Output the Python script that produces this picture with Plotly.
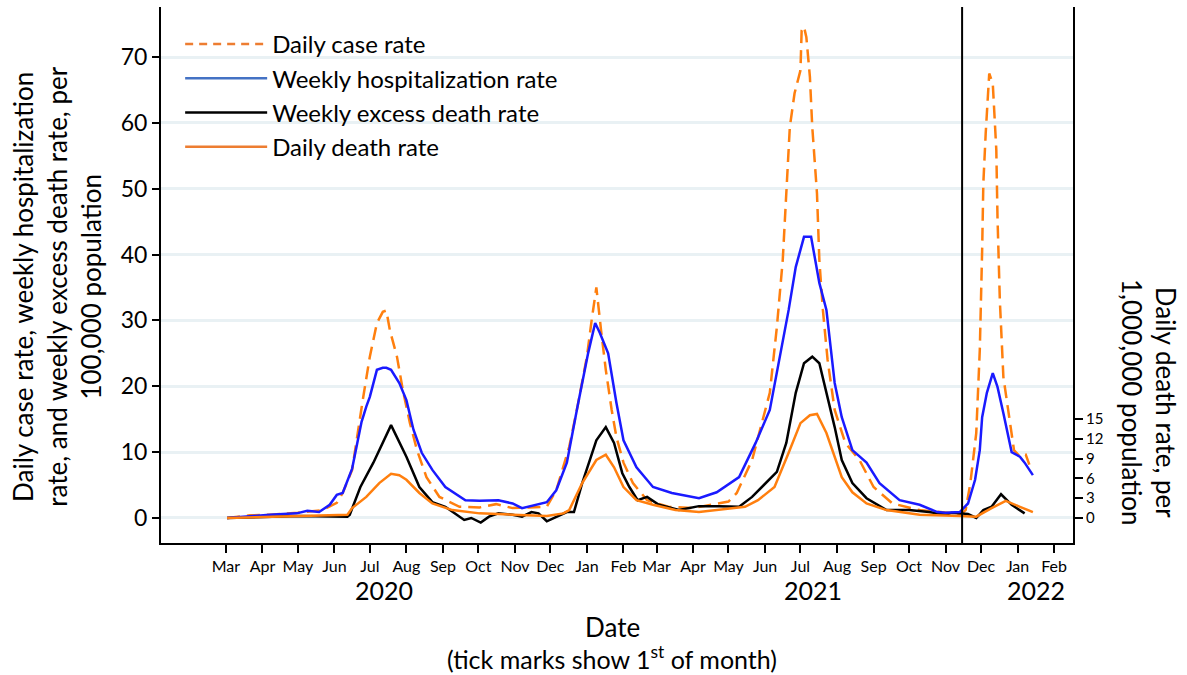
import plotly.graph_objects as go

FONT = "Lato"

# daily case rate per 100,000
case_dates = ['2020-03-02', '2020-03-21', '2020-04-07', '2020-05-01', '2020-05-22', '2020-06-03',
              '2020-06-08', '2020-06-16', '2020-06-25', '2020-07-01', '2020-07-07', '2020-07-12',
              '2020-07-15', '2020-07-18', '2020-07-24', '2020-07-29', '2020-08-04', '2020-08-10',
              '2020-08-18', '2020-08-29', '2020-09-15', '2020-10-02', '2020-10-16', '2020-10-30',
              '2020-11-13', '2020-11-28', '2020-12-06', '2020-12-17', '2020-12-24', '2021-01-01',
              '2021-01-05', '2021-01-09', '2021-01-13', '2021-01-17', '2021-01-22', '2021-01-26',
              '2021-02-01', '2021-02-09', '2021-02-21', '2021-03-11', '2021-04-01', '2021-04-21',
              '2021-05-01', '2021-05-08', '2021-05-21', '2021-06-05', '2021-06-11', '2021-06-16',
              '2021-06-19', '2021-06-22', '2021-06-26', '2021-07-01', '2021-07-02', '2021-07-04',
              '2021-07-06', '2021-07-09', '2021-07-11', '2021-07-15', '2021-07-17', '2021-07-20',
              '2021-07-24', '2021-07-30', '2021-08-08', '2021-08-20', '2021-09-01', '2021-09-17',
              '2021-10-10', '2021-10-31', '2021-11-14', '2021-11-18', '2021-11-22', '2021-11-27',
              '2021-11-30', '2021-12-02', '2021-12-03', '2021-12-05', '2021-12-08', '2021-12-11',
              '2021-12-14', '2021-12-15', '2021-12-17', '2021-12-20', '2021-12-25', '2021-12-29',
              '2022-01-03', '2022-01-08', '2022-01-11']
case_rate = [0, 0.4, 0.5, 0.8, 1.2, 2.3,
             3.8, 7.3, 17.9, 24.5, 29.6, 31.3,
             31.5, 28.5, 24.5, 19.4, 14.4, 10.3,
             6.2, 3.2, 1.7, 1.6, 2.1, 1.5,
             1.6, 1.7, 4.2, 10.8, 16.9, 24.5,
             30, 35, 28.5, 22.5, 16.4, 12.3,
             8.4, 5.3, 2.7, 1.7, 1.5, 2.2,
             2.5, 3.8, 8.8, 19, 29, 39.2,
             49.3, 59.4, 64.5, 68, 74, 74.6,
             73, 67, 59.4, 49.3, 39.2, 31.6,
             24, 16.4, 11.4, 8.8, 4.7, 2.2,
             1.2, 0.8, 0.6, 1.2, 5.3, 12.9,
             25.5, 40.7, 50.8, 58.4, 67.5, 66,
             55.9, 45.7, 33, 21.4, 15.3, 10.3,
             9.3, 9.6, 8.1]

# weekly hospitalization rate per 100,000
hosp_dates = ['2020-03-02', '2020-04-07', '2020-04-30', '2020-05-09', '2020-05-19', '2020-05-28',
              '2020-06-03', '2020-06-08', '2020-06-16', '2020-06-24', '2020-06-28', '2020-07-01',
              '2020-07-07', '2020-07-12', '2020-07-15', '2020-07-19', '2020-07-26', '2020-08-01',
              '2020-08-07', '2020-08-14', '2020-08-23', '2020-09-03', '2020-09-20', '2020-10-02',
              '2020-10-18', '2020-10-30', '2020-11-07', '2020-11-28', '2020-12-06', '2020-12-15',
              '2020-12-24', '2021-01-02', '2021-01-08', '2021-01-12', '2021-01-19', '2021-01-26',
              '2021-02-01', '2021-02-12', '2021-02-26', '2021-03-14', '2021-04-06', '2021-04-21',
              '2021-05-10', '2021-05-24', '2021-06-05', '2021-06-13', '2021-06-21', '2021-06-27',
              '2021-07-04', '2021-07-10', '2021-07-17', '2021-07-23', '2021-07-30', '2021-08-05',
              '2021-08-14', '2021-08-26', '2021-09-06', '2021-09-23', '2021-10-10', '2021-10-25',
              '2021-11-01', '2021-11-13', '2021-11-20', '2021-11-26', '2021-11-30', '2021-12-02',
              '2021-12-06', '2021-12-11', '2021-12-15', '2021-12-20', '2021-12-27', '2022-01-03',
              '2022-01-07', '2022-01-14']
hosp_rate = [0, 0.5, 0.7, 1.1, 0.9, 2.0,
             3.5, 3.8, 7.5, 14.6, 16.9, 18.4,
             22.5, 22.8, 22.8, 22.5, 20.5, 17.9,
             13.4, 9.9, 7.3, 4.7, 2.7, 2.6,
             2.7, 2.2, 1.5, 2.4, 4.2, 8.4,
             16.9, 25, 29.6, 28.1, 25, 17.5,
             11.8, 7.7, 4.7, 3.8, 3.0, 3.9,
             6.2, 11.4, 16.4, 24, 31.6, 38.1,
             42.7, 42.7, 35.7, 31.6, 20.5, 15.3,
             10.3, 8.4, 5.3, 2.7, 2.0, 0.9,
             0.8, 0.9, 2.2, 5.8, 10.3, 15.3,
             19, 22.0, 19.9, 15.9, 10, 9.3,
             8.4, 6.5]

# weekly excess death rate per 100,000
excess_dates = ['2020-03-02', '2020-05-02', '2020-06-12', '2020-06-14', '2020-06-23', '2020-07-04',
                '2020-07-19', '2020-08-01', '2020-08-12', '2020-08-23', '2020-09-03', '2020-09-19',
                '2020-09-25', '2020-10-03', '2020-10-10', '2020-10-18', '2020-10-30', '2020-11-07',
                '2020-11-15', '2020-11-21', '2020-11-28', '2020-12-06', '2020-12-15', '2020-12-21',
                '2020-12-28', '2021-01-09', '2021-01-17', '2021-01-24', '2021-01-31', '2021-02-06',
                '2021-02-13', '2021-02-21', '2021-03-03', '2021-03-20', '2021-04-06', '2021-04-23',
                '2021-05-10', '2021-05-21', '2021-06-02', '2021-06-11', '2021-06-19', '2021-06-27',
                '2021-07-04', '2021-07-11', '2021-07-17', '2021-07-23', '2021-07-30', '2021-08-05',
                '2021-08-14', '2021-08-26', '2021-09-12', '2021-10-01', '2021-10-18', '2021-11-01',
                '2021-11-06', '2021-11-20', '2021-11-27', '2021-12-03', '2021-12-10', '2021-12-18',
                '2021-12-27', '2022-01-07']
excess_rate = [0, 0.3, 0.2, 0.5, 4.7, 8.4,
               14.1, 9.3, 4.7, 2.4, 1.7, -0.3,
               0, -0.7, 0.2, 0.7, 0.5, 0.2,
               0.9, 0.7, -0.5, 0.2, 0.9, 0.9,
               5.3, 11.8, 13.8, 11.4, 6.8, 4.7,
               2.7, 3.2, 2.0, 1.2, 1.8, 1.8,
               1.7, 3.2, 5.3, 7.0, 11.4, 19,
               23.5, 24.5, 23.5, 19, 13.8, 8.8,
               5.3, 3.0, 1.2, 1.2, 0.9, 0.5,
               0.8, 0.6, 0, 1.2, 1.7, 3.6,
               2.0, 0.7]

# daily death rate per 1,000,000
death_dates = ['2020-03-02', '2020-05-02', '2020-06-12', '2020-06-16', '2020-06-28', '2020-07-09',
               '2020-07-19', '2020-07-26', '2020-08-01', '2020-08-12', '2020-08-23', '2020-09-09',
               '2020-10-02', '2020-10-30', '2020-11-28', '2020-12-12', '2020-12-17', '2020-12-28',
               '2021-01-09', '2021-01-17', '2021-01-24', '2021-02-01', '2021-02-12', '2021-02-26',
               '2021-03-17', '2021-04-06', '2021-04-23', '2021-05-15', '2021-05-26', '2021-06-09',
               '2021-06-21', '2021-07-01', '2021-07-09', '2021-07-15', '2021-07-23', '2021-07-30',
               '2021-08-05', '2021-08-14', '2021-08-26', '2021-09-12', '2021-10-10', '2021-11-13',
               '2021-11-27', '2021-12-10', '2021-12-22', '2022-01-03', '2022-01-14']
death_rate = [0, 0.3, 0.5, 1.5, 3.2, 5.3,
              6.7, 6.5, 5.8, 3.8, 2.2, 1.2,
              0.7, 0.5, 0.3, 0.7, 1.2, 5.3,
              8.8, 9.6, 7.7, 4.7, 2.7, 2.0,
              1.2, 0.9, 1.2, 1.7, 2.7, 4.7,
              9.9, 14.4, 15.6, 15.8, 12.9, 9.3,
              6.2, 3.9, 2.2, 1.2, 0.5, 0.3,
              0.2, 1.5, 2.6, 1.7, 0.9]

month_ticks = ['2020-03-01', '2020-04-01', '2020-05-01', '2020-06-01', '2020-07-01', '2020-08-01',
               '2020-09-01', '2020-10-01', '2020-11-01', '2020-12-01', '2021-01-01', '2021-02-01',
               '2021-03-01', '2021-04-01', '2021-05-01', '2021-06-01', '2021-07-01', '2021-08-01',
               '2021-09-01', '2021-10-01', '2021-11-01', '2021-12-01', '2022-01-01', '2022-02-01']
month_text = ['Mar', 'Apr', 'May', 'Jun', 'Jul', 'Aug', 'Sep', 'Oct', 'Nov', 'Dec', 'Jan', 'Feb',
              'Mar', 'Apr', 'May', 'Jun', 'Jul', 'Aug', 'Sep', 'Oct', 'Nov', 'Dec', 'Jan', 'Feb']
year_labels = ['2020', '2021', '2022']
year_pos = ['2020-07-13', '2021-07-12', '2022-01-17']
cutoff_date = '2021-11-15'

ORANGE = '#ff7f0e'
BLUE = '#1a1aff'
Y_RANGE = [-3.8, 77.6]
TITLE_FONT = dict(size=26, color='black')

fig = go.Figure()
fig.add_trace(go.Scatter(x=case_dates, y=case_rate, mode='lines', showlegend=False,
                         line=dict(color=ORANGE, width=2.5, dash='13px,7px')))
fig.add_trace(go.Scatter(x=death_dates, y=death_rate, mode='lines', showlegend=False, yaxis='y2',
                         line=dict(color=ORANGE, width=2.5)))
fig.add_trace(go.Scatter(x=excess_dates, y=excess_rate, mode='lines', showlegend=False,
                         line=dict(color='black', width=2.5)))
fig.add_trace(go.Scatter(x=hosp_dates, y=hosp_rate, mode='lines', showlegend=False,
                         line=dict(color=BLUE, width=2.5)))

# legend entries (legend samples use the softer office colours)
legend_items = [('Daily case rate', '#ed7d31', '8px,6px'),
                ('Weekly hospitalization rate', '#4472c4', 'solid'),
                ('Weekly excess death rate', 'black', 'solid'),
                ('Daily death rate', '#ed7d31', 'solid')]
for name, col, dash in legend_items:
    fig.add_trace(go.Scatter(x=[None], y=[None], mode='lines', name=name, legendgroup=name,
                             line=dict(color=col, width=2.5, dash=dash)))

fig.add_shape(type='line', xref='x', yref='paper', x0=cutoff_date, x1=cutoff_date, y0=0, y1=1,
              line=dict(color='black', width=2))

for lbl, pos in zip(year_labels, year_pos):
    fig.add_annotation(x=pos, xref='x', y=0, yref='paper', yshift=-47, yanchor='middle',
                       text=lbl, showarrow=False, font=dict(size=25, color='black'))

fig.add_annotation(x=0.5, xref='paper', xshift=-5, y=0, yref='paper', yshift=-84, yanchor='middle',
                   text='Date', showarrow=False, font=TITLE_FONT)
fig.add_annotation(x=0.5, xref='paper', xshift=-5, y=0, yref='paper', yshift=-114, yanchor='middle',
                   text='(tick marks show 1<sup>st</sup> of month)', showarrow=False,
                   font=dict(size=25, color='black'))
fig.add_annotation(x=0, xref='paper', xshift=-104, xanchor='center', y=0.478, yref='paper',
                   yanchor='middle', textangle=-90,
                   text='Daily case rate, weekly hospitalization<br>rate, and weekly excess death rate, per<br>100,000 population',
                   showarrow=False, font=TITLE_FONT)
fig.add_annotation(x=1, xref='paper', xshift=76, xanchor='center', y=0.263, yref='paper',
                   yanchor='middle', textangle=90,
                   text='Daily death rate, per<br>1,000,000 population',
                   showarrow=False, font=TITLE_FONT)

fig.update_layout(
    width=1187, height=675,
    margin=dict(l=161, r=114, t=7, b=132),
    paper_bgcolor='white', plot_bgcolor='white',
    font=dict(family=FONT, color='black'),
    showlegend=True,
    legend=dict(x=0.021, y=0.972, xanchor='left', yanchor='top', bgcolor='rgba(0,0,0,0)',
                font=dict(size=24), itemwidth=82, tracegroupgap=0),
    xaxis=dict(type='date', range=['2020-01-06', '2022-02-17'], tickvals=month_ticks,
               ticktext=month_text, ticks='outside', ticklen=8, tickwidth=1.5, tickcolor='black',
               showline=True, linecolor='black', linewidth=2, showgrid=False, zeroline=False,
               tickfont=dict(size=16)),
    yaxis=dict(range=Y_RANGE, tickvals=[0, 10, 20, 30, 40, 50, 60, 70], ticks='outside', ticklen=7,
               tickwidth=1.5, tickcolor='black', showline=True, linecolor='black', linewidth=2,
               showgrid=True, gridcolor='#e9f1f4', gridwidth=2.5, zeroline=False,
               tickfont=dict(size=23)),
    yaxis2=dict(range=Y_RANGE, overlaying='y', side='right', tickvals=[0, 3, 6, 9, 12, 15],
                ticks='outside', ticklen=8, tickwidth=1.5, tickcolor='black', showline=True,
                linecolor='black', linewidth=2, showgrid=False, zeroline=False,
                tickfont=dict(size=15)),
)

# the page's default body margin would shift the fixed-size figure
fig.write_html("out.html", config={'displayModeBar': False},
               post_script="document.body.style.margin='0';")
